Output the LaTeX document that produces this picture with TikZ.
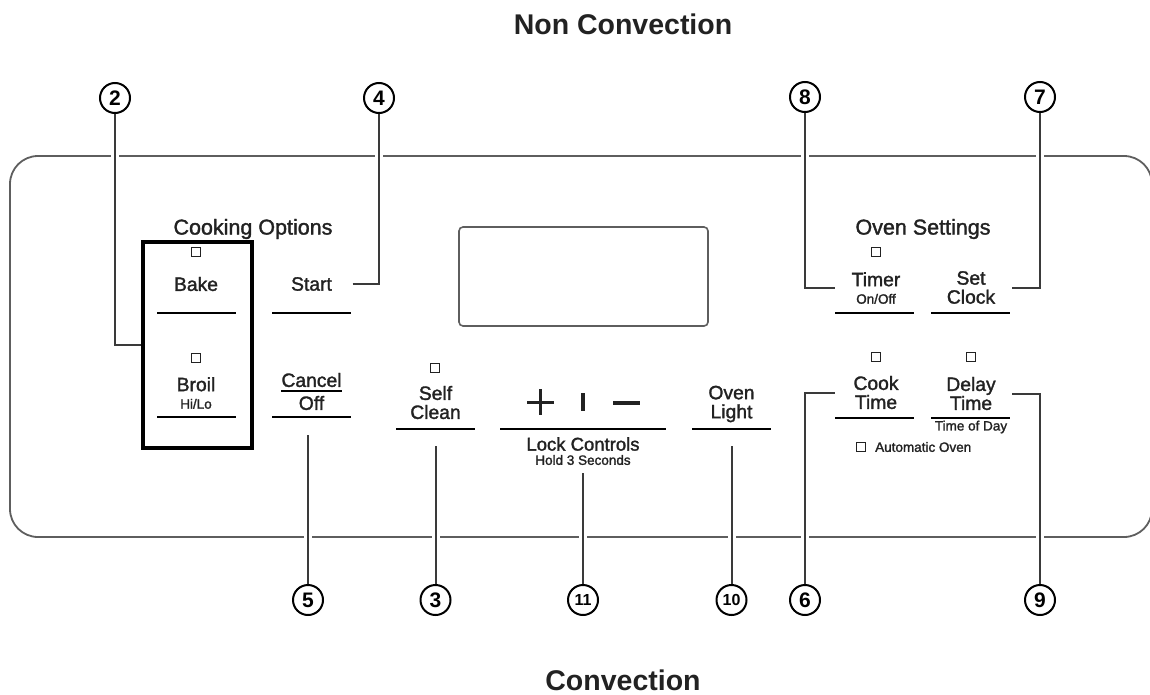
\documentclass[tikz,border=0pt]{standalone}
\usepackage{fontspec}
\setmainfont{Liberation Sans}
\newfontfamily\panelfont{Liberation Sans}[FakeBold=1.6]
\newcommand\titlefont{\fontsize{28.5}{30}\selectfont\bfseries}
\newcommand\headfont{\panelfont\fontsize{21.5}{24}\selectfont}
\newcommand\keyfont{\panelfont\fontsize{19.3}{19}\selectfont}
\newcommand\smallfont{\panelfont\fontsize{13.5}{14}\selectfont}
\newcommand\numfont{\fontsize{21}{21}\selectfont\bfseries}
\newcommand\twonumfont{\fontsize{16}{16}\selectfont\bfseries}
\definecolor{ink}{HTML}{222222}
\definecolor{panelgray}{HTML}{5E5E5E}
\definecolor{leadgray}{HTML}{3A3A3A}
\pgfdeclarelayer{bg}
\pgfdeclarelayer{gap}
\pgfsetlayers{bg,gap,main}
\tikzset{
  keylbl/.style={font=\keyfont, text=ink, align=center, inner sep=0pt, minimum width=82pt},
  keybar/.style={fill=black, minimum width=79pt, minimum height=2.5pt, inner sep=0pt},
  led/.style={draw=ink, line width=1.3pt, minimum size=9pt, inner sep=0pt},
  num/.style={circle, draw=black, line width=2pt, minimum size=30pt, inner sep=0pt, font=\numfont},
  leader/.style={draw=leadgray, line width=2pt, preaction={draw=white, line width=8pt}},
}
\begin{document}
\begin{tikzpicture}[x=1pt, y=-1pt]
    \useasboundingbox (0,0) rectangle (1150,695);

    % Titles
    \node[font=\titlefont, text=ink] (nonconv) at (623,24) {Non Convection};
    \node[font=\titlefont, text=ink] (conv) at (623,680) {Convection};

    % Panel outline
    \begin{pgfonlayer}{bg}
    \draw[panelgray, line width=1.8pt, rounded corners=28pt] (10,156) rectangle (1152,537);
    \end{pgfonlayer}

    % Display window
    \draw[panelgray, line width=1.6pt, rounded corners=4pt] (459,227) rectangle (708,326);

    % Cooking options
    \node[font=\headfont, text=ink] (cookopt) at (253,229) {Cooking Options};
    \node[draw=black, line width=4pt, minimum width=109pt, minimum height=206pt, inner sep=0pt] (optbox) at (197.5,345) {};
    \node[led] (bakeled) at (196,252) {};
    \node[keylbl] (bake) at (196,284) {Bake};
    \node[keybar] (bakebar) at (196,313) {};
    \node[led] (broilled) at (196,358) {};
    \node[keylbl] (broil) at (196,393) {Broil\\[-1.5pt]{\smallfont Hi/Lo}};
    \node[keybar] (broilbar) at (196,417) {};
    \node[keylbl] (start) at (311.5,284) {Start};
    \node[keybar] (startbar) at (311.5,313) {};
    \node[font=\keyfont, text=ink, inner sep=0pt] (cancel) at (311.5,380) {Cancel};
    \draw[black, line width=2pt] ([yshift=-4pt]cancel.south west) -- ([yshift=-4pt]cancel.south east);
    \node[keylbl] (off) at (311.5,403) {Off};
    \node[keybar] (offbar) at (311.5,417) {};

    % Middle keys
    \node[led] (selfled) at (435,368) {};
    \node[keylbl] (selfclean) at (435.5,402.5) {Self\\Clean};
    \node[keybar] (selfbar) at (435.5,429) {};
    \draw[ink, line width=3pt] (527,402) -- (554,402) (540.5,389) -- (540.5,415);
    \draw[ink, line width=3.5pt] (583,393) -- (583,411);
    \draw[ink, line width=4.5pt] (613,403) -- (640,403);
    \node[keybar, minimum width=166pt] (lockbar) at (583,429) {};
    \node[font=\panelfont\fontsize{18.5}{19}\selectfont, text=ink, inner sep=0pt] (lock) at (583,444) {Lock Controls};
    \node[font=\smallfont, text=ink, inner sep=0pt] (hold) at (583,460) {Hold 3 Seconds};
    \node[keylbl] (light) at (731.5,404) {Oven\\Light};
    \node[keybar] (lightbar) at (731.5,429) {};

    % Oven settings
    \node[font=\headfont, text=ink] (ovenset) at (923,229) {Oven Settings};
    \node[led] (timerled) at (876,252) {};
    \node[keylbl] (timer) at (876,288) {Timer\\[-1.5pt]{\smallfont On/Off}};
    \node[keybar] (timerbar) at (874.5,313) {};
    \node[keylbl] (setclock) at (971,287.5) {Set\\Clock};
    \node[keybar] (clockbar) at (970.5,313) {};
    \node[led] (cookled) at (876,357) {};
    \node[keylbl] (cook) at (876,392.5) {Cook\\Time};
    \node[keybar] (cookbar) at (874.5,418) {};
    \node[led] (delayled) at (971,357) {};
    \node[keylbl] (delay) at (971,393.5) {Delay\\Time};
    \node[keybar] (delaybar) at (970.5,418) {};
    \node[font=\smallfont, text=ink, inner sep=0pt] (tod) at (971,427) {Time of Day};
    \node[led] (autoled) at (861,447) {};
    \node[font=\smallfont, text=ink, inner sep=0pt, anchor=west] (auto) at (875,447) {Automatic Oven};

    % Callout numbers
    \node[num] (c2) at (115,98) {2};
    \node[num] (c4) at (379,98) {4};
    \node[num] (c8) at (805,97) {8};
    \node[num] (c7) at (1040,97) {7};
    \node[num] (c5) at (308,600) {5};
    \node[num] (c3) at (435.5,600) {3};
    \node[num, font=\twonumfont] (c11) at (583,600) {11};
    \node[num, font=\twonumfont] (c10) at (731.5,600) {10};
    \node[num] (c6) at (805,600) {6};
    \node[num] (c9) at (1040,600) {9};

    % Leaders
    \begin{pgfonlayer}{gap}
    \draw[leader] (c2) |- (optbox.west);
    \draw[leader] (start.east) -| (c4);
    \draw[leader] (c8) |- (timer.west);
    \draw[leader] (setclock.east) -| (c7);
    \draw[leader] (c6) |- (cook.west);
    \draw[leader] (delay.east) -| (c9);
    \draw[leader, shorten <=18pt] (c5 |- offbar) -- (c5);
    \draw[leader, shorten <=16pt] (selfbar) -- (c3);
    \draw[leader, shorten <=8pt] (hold.south) -- (c11);
    \draw[leader, shorten <=16pt] (lightbar) -- (c10);
    \end{pgfonlayer}
\end{tikzpicture}
\end{document}
